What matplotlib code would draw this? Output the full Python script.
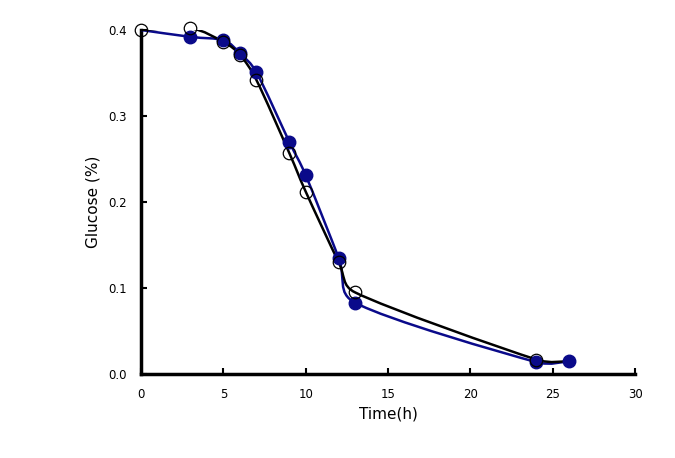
import numpy as np
import matplotlib
matplotlib.use("Agg")
import matplotlib.pyplot as plt
from matplotlib.path import Path
from matplotlib.patches import PathPatch

time_open = [0, 3, 5, 6, 7, 9, 10, 12, 13, 24, 26]
glucose_open = [0.400, 0.402, 0.386, 0.371, 0.342, 0.257, 0.212, 0.130, 0.095, 0.017, 0.015]
time_filled = [0, 3, 5, 6, 7, 9, 10, 12, 13, 24, 26]
glucose_filled = [0.400, 0.392, 0.388, 0.373, 0.351, 0.270, 0.231, 0.135, 0.083, 0.014, 0.015]
x_ticks = [0, 5, 10, 15, 20, 25, 30]
y_ticks = [0.0, 0.1, 0.2, 0.3, 0.4]


def smooth_path(ax, xs, ys, **kw):
    # Excel-style smoothed line (Catmull-Rom as cubic Bezier, handles clamped), in display space
    pts = ax.transData.transform(np.column_stack([xs, ys]))
    n = len(pts)
    verts = [pts[0]]
    codes = [Path.MOVETO]
    t = 1.0 / 6.0

    def clamp(v, seg):
        L = np.hypot(*v)
        m = 0.45 * seg
        return v * (m / L) if L > m and L > 0 else v

    for i in range(n - 1):
        p0 = pts[i - 1] if i > 0 else pts[i]
        p1 = pts[i]
        p2 = pts[i + 1]
        p3 = pts[i + 2] if i + 2 < n else pts[i + 1]
        seg = np.hypot(*(p2 - p1))
        c1 = p1 + clamp((p2 - p0) * t, seg)
        c2 = p2 - clamp((p3 - p1) * t, seg)
        verts += [c1, c2, p2]
        codes += [Path.CURVE4] * 3
    verts = ax.transData.inverted().transform(np.array(verts))
    patch = PathPatch(Path(verts, codes), fill=False, **kw)
    ax.add_patch(patch)


fig = plt.figure(figsize=(6.75, 4.58), dpi=100)
ax = fig.add_axes([0.209, 0.183, 0.732, 0.7515])
ax.set_xlim(0, 30)
ax.set_ylim(0, 0.4)

navy = "#0a0a8a"
smooth_path(ax, time_filled, glucose_filled, edgecolor=navy, linewidth=1.8, zorder=3)
smooth_path(ax, time_open, glucose_open, edgecolor="black", linewidth=1.8, zorder=4)
ax.plot(time_filled[1:], glucose_filled[1:], linestyle="none", marker="o", markersize=9,
        markerfacecolor=navy, markeredgecolor=navy, zorder=5, clip_on=False)
ax.plot(time_open[:-1], glucose_open[:-1], linestyle="none", marker="o", markersize=9,
        markerfacecolor="none", markeredgecolor="black", markeredgewidth=0.9, zorder=6, clip_on=False)

for s in ["top", "right"]:
    ax.spines[s].set_visible(False)
for s in ["left", "bottom"]:
    ax.spines[s].set_linewidth(2.5)

ax.set_xticks(x_ticks)
ax.set_yticks(y_ticks)
ax.set_yticklabels([f"{v:.1f}" for v in y_ticks])
ax.tick_params(direction="in", length=4, width=1.5, labelsize=8.5, pad=10)
ax.set_xlabel("Time(h)", fontsize=11, labelpad=4)
ax.set_ylabel("Glucose (%)", fontsize=11, labelpad=6)

fig.savefig("out.png", dpi=100)
